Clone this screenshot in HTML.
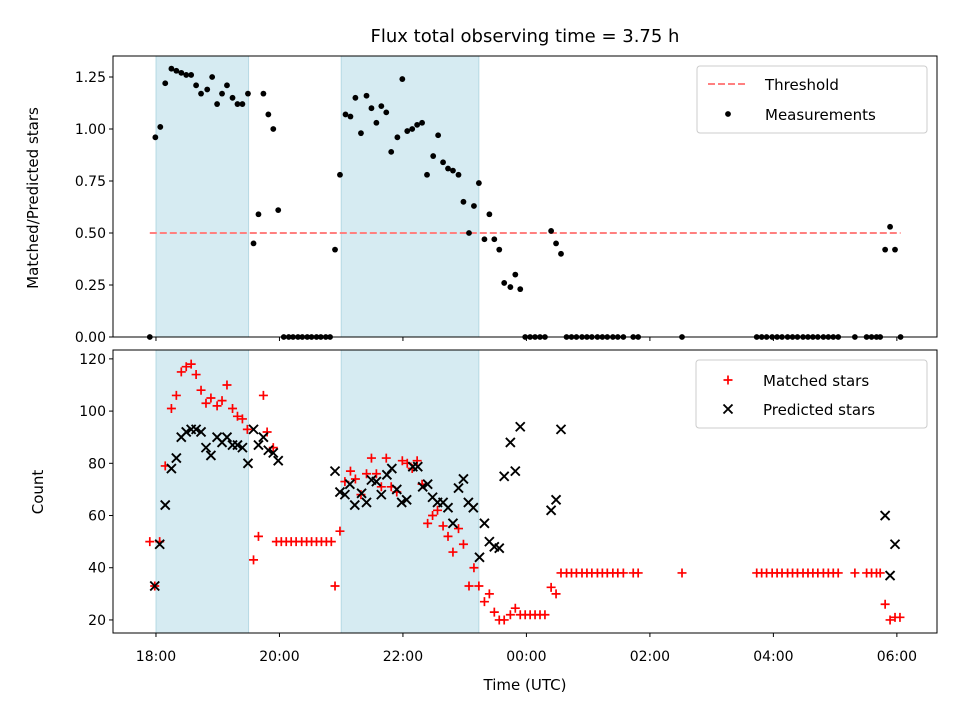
<!DOCTYPE html>
<html><head><meta charset="utf-8"><style>
html,body{margin:0;padding:0;background:#fff;}
svg text{font-family:"DejaVu Sans","Liberation Sans",sans-serif;}
</style></head><body>
<svg id="chart" width="960" height="720" xmlns="http://www.w3.org/2000/svg"></svg>
<script>
// Data (time in hours after 18:00 UTC)
const fluxT=[-0.10,-0.01,0.07,0.15,0.25,0.33,0.41,0.49,0.57,0.65,0.73,0.83,0.91,0.99,1.07,1.15,1.24,1.32,1.40,1.49,1.58,1.66,1.74,1.82,1.90,1.98,2.07,2.15,2.22,2.30,2.37,2.45,2.52,2.60,2.67,2.75,2.82,2.90,2.98,3.07,3.15,3.23,3.32,3.41,3.49,3.57,3.65,3.73,3.81,3.91,3.99,4.07,4.15,4.23,4.31,4.39,4.49,4.57,4.65,4.73,4.81,4.90,4.98,5.07,5.15,5.23,5.32,5.40,5.48,5.56,5.64,5.74,5.82,5.90,5.98,6.06,6.14,6.22,6.30,6.40,6.48,6.56,6.65,6.73,6.81,6.90,6.98,7.06,7.15,7.23,7.31,7.40,7.48,7.57,7.73,7.81,8.52,9.73,9.81,9.89,9.98,10.06,10.14,10.23,10.31,10.39,10.48,10.56,10.64,10.72,10.81,10.89,10.97,11.05,11.32,11.51,11.59,11.67,11.73,11.81,11.89,11.97,12.06];
const fluxV=[0,0.96,1.01,1.22,1.29,1.28,1.27,1.26,1.26,1.21,1.17,1.19,1.25,1.12,1.17,1.21,1.15,1.12,1.12,1.17,0.45,0.59,1.17,1.07,1.00,0.61,0,0,0,0,0,0,0,0,0,0,0,0.42,0.78,1.07,1.06,1.15,0.98,1.16,1.10,1.03,1.11,1.08,0.89,0.96,1.24,0.99,1.00,1.02,1.03,0.78,0.87,0.97,0.84,0.81,0.80,0.78,0.65,0.50,0.63,0.74,0.47,0.59,0.47,0.42,0.26,0.24,0.30,0.23,0,0,0,0,0,0.51,0.45,0.40,0,0,0,0,0,0,0,0,0,0,0,0,0,0,0,0,0,0,0,0,0,0,0,0,0,0,0,0,0,0,0,0,0,0,0,0,0,0.42,0.53,0.42,0];
const threshold=0.5;
const matchedT=[-0.10,-0.02,0.06,0.15,0.25,0.33,0.41,0.49,0.57,0.65,0.73,0.81,0.89,0.99,1.07,1.15,1.24,1.32,1.40,1.48,1.58,1.66,1.74,1.80,1.90,1.95,2.03,2.11,2.19,2.27,2.36,2.44,2.52,2.60,2.68,2.76,2.84,2.90,2.98,3.06,3.15,3.23,3.32,3.41,3.49,3.57,3.65,3.73,3.81,3.90,3.99,4.07,4.15,4.23,4.31,4.40,4.48,4.56,4.65,4.73,4.81,4.90,4.98,5.07,5.15,5.23,5.32,5.40,5.48,5.56,5.64,5.74,5.82,5.90,5.98,6.06,6.14,6.22,6.30,6.40,6.48,6.56,6.65,6.73,6.81,6.90,6.98,7.06,7.15,7.23,7.31,7.40,7.48,7.57,7.73,7.81,8.52,9.73,9.81,9.89,9.98,10.06,10.14,10.23,10.31,10.39,10.48,10.56,10.64,10.72,10.81,10.89,10.97,11.05,11.32,11.51,11.59,11.67,11.73,11.81,11.89,11.97,12.05];
const matchedV=[50,33,50,79,101,106,115,117,118,114,108,103,105,102,104,110,101,98,97,93,43,52,106,92,86,50,50,50,50,50,50,50,50,50,50,50,50,33,54,73,77,74,68,76,82,76,71,82,71,69,81,80,78,81,72,57,60,62,56,52,46,55,49,33,40,33,27,30,23,20,20,22,24.5,22,22,22,22,22,22,32.5,30,38,38,38,38,38,38,38,38,38,38,38,38,38,38,38,38,38,38,38,38,38,38,38,38,38,38,38,38,38,38,38,38,38,38,38,38,38,38,26,20,21,21];
const predT=[-0.02,0.06,0.15,0.25,0.33,0.41,0.49,0.57,0.65,0.73,0.81,0.89,0.99,1.07,1.15,1.24,1.32,1.40,1.49,1.58,1.66,1.74,1.82,1.90,1.98,2.90,2.98,3.06,3.14,3.22,3.33,3.41,3.49,3.57,3.65,3.74,3.82,3.90,3.98,4.06,4.16,4.24,4.32,4.40,4.48,4.56,4.65,4.73,4.81,4.90,4.98,5.06,5.14,5.24,5.32,5.40,5.48,5.56,5.64,5.74,5.82,5.90,6.40,6.48,6.56,11.81,11.89,11.97];
const predV=[33,49,64,78,82,90,92,93,93,92,86,83,90,88,90,87,87,86,80,93,87,90,85,84,81,77,69,68,72,64,68.5,65,73.6,73,68,75.6,78,70,65,66,78.7,78.7,71,72,67,65,65,63,57,70.5,74,65,63,44,57,50,48,47.5,75,88,77,94,62,66,93,60,37,49];
const spans=[[0,1.5],[3.0,5.23]];
const xTicks=[0,2,4,6,8,10,12];
const xTickLabels=["18:00","20:00","22:00","00:00","02:00","04:00","06:00"];
const topTicks=[0,0.25,0.5,0.75,1.0,1.25];
const botTicks=[20,40,60,80,100,120];

const NS="http://www.w3.org/2000/svg";
const svg=document.getElementById('chart');
function mk(tag,attrs,parent){const e=document.createElementNS(NS,tag);for(const k in attrs)e.setAttribute(k,attrs[k]);(parent||svg).appendChild(e);return e;}
const L=113,R=937;
const x=h=>L+(h-(-0.696))/(12.65-(-0.696))*(R-L);
const T={top:56,bot:337,min:0,max:1.351};
const B={top:350,bot:633,min:15.0,max:123.4};
const yT=v=>T.bot-(v-T.min)/(T.max-T.min)*(T.bot-T.top);
const yB=v=>B.bot-(v-B.min)/(B.max-B.min)*(B.bot-B.top);

// spans
[[T,'top'],[B,'bottom']].forEach(([A,nm])=>{
  spans.forEach((s,i)=>{
    const r=mk('rect',{x:x(s[0]),y:A.top,width:x(s[1])-x(s[0]),height:A.bot-A.top,fill:'rgba(173,216,230,0.5)',stroke:'rgba(150,200,215,0.6)','stroke-width':1});
    
    
  });
});
// threshold
const th=mk('line',{x1:x(-0.1),x2:x(12.06),y1:yT(threshold),y2:yT(threshold),stroke:'#ff8080','stroke-width':2,'stroke-dasharray':'7,3'});


// measurements
fluxT.forEach((t,i)=>{
  const c=mk('circle',{cx:x(t),cy:yT(fluxV[i]),r:2.9,fill:'#000'});
  
  
});
// matched
matchedT.forEach((t,i)=>{
  const cx=x(t),cy=yB(matchedV[i]);
  const p=mk('path',{d:`M${cx-4.5},${cy}H${cx+4.5}M${cx},${cy-4.5}V${cy+4.5}`,stroke:'#f00','stroke-width':1.7,fill:'none'});
  
  
});
// predicted
predT.forEach((t,i)=>{
  const cx=x(t),cy=yB(predV[i]);
  const p=mk('path',{d:`M${cx-4.5},${cy-4.5}L${cx+4.5},${cy+4.5}M${cx-4.5},${cy+4.5}L${cx+4.5},${cy-4.5}`,stroke:'#000','stroke-width':1.9,fill:'none'});
  
  
});
// frames & ticks
[[T,'top',topTicks,yT,v=>v.toFixed(2)],[B,'bottom',botTicks,yB,v=>String(v)]].forEach(([A,nm,ticks,yf,fmt])=>{
  const f=mk('rect',{x:L,y:A.top,width:R-L,height:A.bot-A.top,fill:'none',stroke:'#000','stroke-width':1});
  
  
  ticks.forEach(v=>{
    const yy=yf(v);
    mk('line',{x1:L-4,x2:L,y1:yy,y2:yy,stroke:'#000','stroke-width':1});
    const tx=mk('text',{x:L-7,y:yy+5,'text-anchor':'end','font-size':14,fill:'#000'});
    tx.textContent=fmt(v);
    
    
  });
  xTicks.forEach((h,i)=>{
    const xx=x(h);
    mk('line',{x1:xx,x2:xx,y1:A.bot,y2:A.bot+4,stroke:'#000','stroke-width':1});
    if(nm==='bottom'){
      const tx=mk('text',{x:xx,y:A.bot+28,'text-anchor':'middle','font-size':14,fill:'#000'});
      tx.textContent=xTickLabels[i];
      
      
    }
  });
});
</script>
<svg width="960" height="720" style="position:absolute;left:0;top:0;pointer-events:none" xmlns="http://www.w3.org/2000/svg">
<text x="525" y="42" text-anchor="middle" font-size="18" font-family="DejaVu Sans, Liberation Sans, sans-serif">Flux total observing time = 3.75 h</text>
<text transform="translate(38,198) rotate(-90)" text-anchor="middle" font-size="15" font-family="DejaVu Sans, Liberation Sans, sans-serif">Matched/Predicted stars</text>
<text transform="translate(43,492) rotate(-90)" text-anchor="middle" font-size="15" font-family="DejaVu Sans, Liberation Sans, sans-serif">Count</text>
<text x="525" y="690" text-anchor="middle" font-size="15" font-family="DejaVu Sans, Liberation Sans, sans-serif">Time (UTC)</text>
<g>
<rect x="697" y="66" width="230" height="67" rx="3" fill="#fff" fill-opacity="0.85" stroke="#ccc"/>
<line x1="708" x2="748" y1="84" y2="84" stroke="#ff8080" stroke-width="2" stroke-dasharray="7,3"/>
<text x="765" y="90" font-size="15" font-family="DejaVu Sans, Liberation Sans, sans-serif">Threshold</text>
<circle cx="728" cy="114" r="2.9" fill="#000"/>
<text x="765" y="120" font-size="15" font-family="DejaVu Sans, Liberation Sans, sans-serif">Measurements</text>
</g>
<g>
<rect x="696" y="360" width="231" height="68" rx="3" fill="#fff" fill-opacity="0.85" stroke="#ccc"/>
<path d="M723.5,380H732.5M728,375.5V384.5" stroke="#f00" stroke-width="1.7"/>
<text x="763" y="386" font-size="15" font-family="DejaVu Sans, Liberation Sans, sans-serif">Matched stars</text>
<path d="M723.5,404.5L732.5,413.5M723.5,413.5L732.5,404.5" stroke="#000" stroke-width="1.9"/>
<text x="763" y="415" font-size="15" font-family="DejaVu Sans, Liberation Sans, sans-serif">Predicted stars</text>
</g>
</svg>
</body></html>
